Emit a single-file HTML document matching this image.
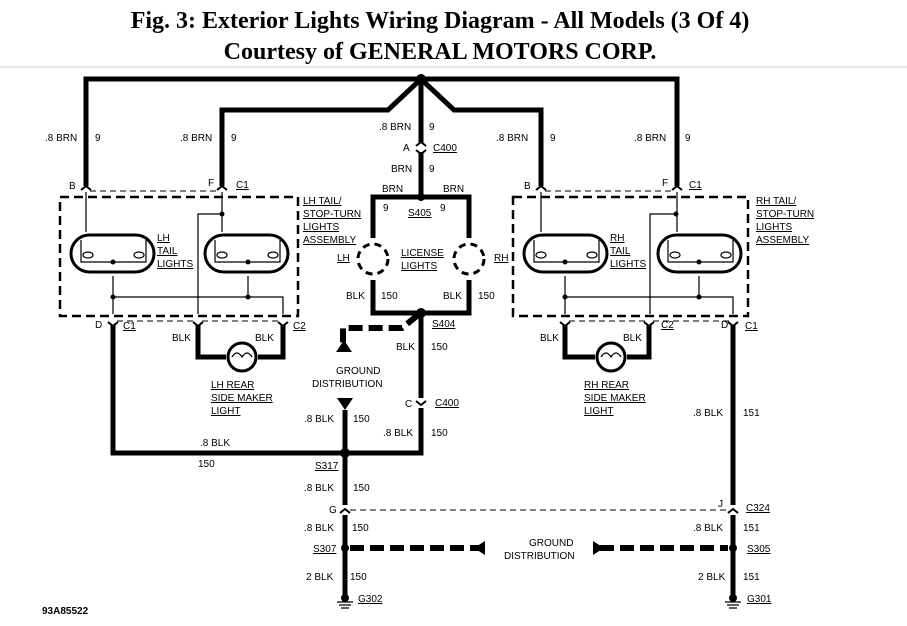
<!DOCTYPE html>
<html><head><meta charset="utf-8"><style>
body{margin:0;background:#fff}
svg{display:block}
text{font-family:"Liberation Sans",sans-serif;font-size:10px;fill:#000}
.t{font-family:"Liberation Serif",serif;font-weight:bold;font-size:24px}
.u{text-decoration:underline}
</style></head><body>
<svg width="907" height="626" viewBox="0 0 907 626" xmlns="http://www.w3.org/2000/svg">
<text class="t" x="440" y="28" text-anchor="middle">Fig. 3: Exterior Lights Wiring Diagram - All Models (3 Of 4)</text>
<text class="t" x="440" y="59" text-anchor="middle">Courtesy of GENERAL MOTORS CORP.</text>
<line x1="0" y1="67" x2="907" y2="67" stroke="#ddd" stroke-width="1.5"/>
<g fill="none" stroke="#000" stroke-width="5">
<path d="M86,186 V79 H677 V186"/>
<path d="M222,186 V110 H388 L421,79 L454,110 H541 V186"/>
<path d="M421,79 V143"/>
<path d="M421,152 V197"/>
<path d="M373,238 V197 H469 V238"/>
<path d="M373,280 V313 H469 V280"/>
<path d="M421,313 V398"/>
<path d="M421,408 V453 H113 V325"/>
<path d="M345,410 V505"/>
<path d="M345,515 V596"/>
<path d="M198,325 V357 H226"/><path d="M283,325 V357 H258"/>
<path d="M565,325 V357 H595"/><path d="M649,325 V357 H627"/>
<path d="M733,325 V505"/><path d="M733,515 V596"/>
</g>
<g fill="none" stroke="#000" stroke-width="2">
<path d="M81,190 l5,-4 l5,4 M217,190 l5,-4 l5,4 M536,190 l5,-4 l5,4 M672,190 l5,-4 l5,4"/>
<path d="M108,322 l5,4 l5,-4 M193,322 l5,4 l5,-4 M278,322 l5,4 l5,-4 M560,322 l5,4 l5,-4 M644,322 l5,4 l5,-4 M728,322 l5,4 l5,-4"/>
<path d="M416,146 l5,-4 l5,4 M416,150 l5,4 l5,-4 M416,401 l5,4 l5,-4 M340,513 l5,-4 l5,4 M728,513 l5,-4 l5,4"/>
</g>
<g stroke="#000" stroke-width="6" fill="none" stroke-dasharray="14,6">
<path d="M418,315 L402,328 H343 V346"/>
<path d="M350,548 H482"/>
<path d="M600,548 H728"/>
</g>
<polygon points="336,352 352,352 344,340" fill="#000"/>
<polygon points="337,398 353,398 345,410" fill="#000"/>
<polygon points="485,541 485,555 474,548" fill="#000"/>
<polygon points="593,541 593,555 604,548" fill="#000"/>
<g fill="#000"><circle cx="421" cy="79" r="5"/><circle cx="421" cy="197" r="4"/><circle cx="421" cy="313" r="5"/><circle cx="345" cy="453" r="5"/><circle cx="345" cy="548" r="4"/><circle cx="733" cy="548" r="4"/></g>
<g fill="none" stroke="#000" stroke-width="2.5" stroke-dasharray="9,5">
<rect x="60" y="197" width="238" height="119"/>
<rect x="513" y="197" width="235" height="119"/>
</g>
<g fill="none" stroke="#000" stroke-width="1" stroke-dasharray="6,4">
<path d="M90,191 H218"/><path d="M545,191 H673"/>
<path d="M117,321 H194"/><path d="M202,321 H279"/>
<path d="M569,321 H645"/><path d="M653,321 H729"/>
<path d="M350,510 H728"/>
</g>
<g fill="none" stroke="#000" stroke-width="3">
<rect x="71" y="235" width="83" height="37" rx="18.5"/><rect x="205" y="235" width="83" height="37" rx="18.5"/>
<rect x="524" y="235" width="83" height="37" rx="18.5"/><rect x="658" y="235" width="83" height="37" rx="18.5"/>
<circle cx="242" cy="357" r="14"/><circle cx="611" cy="357" r="14"/>
</g>
<g fill="none" stroke="#000" stroke-width="3" stroke-dasharray="7,5">
<circle cx="373" cy="259" r="15"/><circle cx="469" cy="259" r="15"/>
</g>
<g fill="none" stroke="#000" stroke-width="1.2">
<path d="M86,192 V232 M222,192 V232 M541,192 V232 M677,192 V232"/>
<path d="M222,214 H198 V314 M676,214 H650 V314"/>
<path d="M113,276 V314 M248,276 V297 M113,297 H283 V314"/>
<path d="M565,276 V314 M699,276 V297 M565,297 H733 V314"/>
<path d="M81,240 V262 H146 V240 M215,240 V262 H280 V240 M534,240 V262 H599 V240 M668,240 V262 H733 V240"/>
<ellipse cx="88" cy="255" rx="5" ry="3"/><ellipse cx="139" cy="255" rx="5" ry="3"/>
<ellipse cx="222" cy="255" rx="5" ry="3"/><ellipse cx="273" cy="255" rx="5" ry="3"/>
<ellipse cx="541" cy="255" rx="5" ry="3"/><ellipse cx="592" cy="255" rx="5" ry="3"/>
<ellipse cx="675" cy="255" rx="5" ry="3"/><ellipse cx="726" cy="255" rx="5" ry="3"/>
<path d="M232,357 q5,-8 10,0 q5,-8 10,0 M601,357 q5,-8 10,0 q5,-8 10,0"/>
</g>
<g fill="#000"><circle cx="222" cy="214" r="2.5"/><circle cx="676" cy="214" r="2.5"/><circle cx="113" cy="262" r="2.5"/><circle cx="248" cy="262" r="2.5"/><circle cx="565" cy="262" r="2.5"/><circle cx="699" cy="262" r="2.5"/><circle cx="113" cy="297" r="2.5"/><circle cx="248" cy="297" r="2.5"/><circle cx="565" cy="297" r="2.5"/><circle cx="699" cy="297" r="2.5"/></g>
<g fill="#000"><circle cx="345" cy="598" r="4"/><circle cx="733" cy="598" r="4"/></g>
<g stroke="#000" stroke-width="1.3"><path d="M337,602 H353 M339,605 H351 M341,608 H349 M725,602 H741 M727,605 H739 M729,608 H737"/></g>
<text x="45" y="141">.8 BRN</text><text x="95" y="141">9</text>
<text x="180" y="141">.8 BRN</text><text x="231" y="141">9</text>
<text x="379" y="130">.8 BRN</text><text x="429" y="130">9</text>
<text x="496" y="141">.8 BRN</text><text x="550" y="141">9</text>
<text x="634" y="141">.8 BRN</text><text x="685" y="141">9</text>
<text x="403" y="151">A</text><text class="u" x="433" y="151">C400</text>
<text x="391" y="172">BRN</text><text x="429" y="172">9</text>
<text x="382" y="192">BRN</text><text x="443" y="192">BRN</text>
<text x="383" y="211">9</text><text x="440" y="211">9</text><text class="u" x="408" y="216">S405</text>
<text x="69" y="189">B</text><text x="208" y="186">F</text><text class="u" x="236" y="188">C1</text>
<text x="524" y="189">B</text><text x="662" y="186">F</text><text class="u" x="689" y="188">C1</text>
<text class="u" x="303" y="204">LH TAIL/</text><text class="u" x="303" y="217">STOP-TURN</text><text class="u" x="303" y="230">LIGHTS</text><text class="u" x="303" y="243">ASSEMBLY</text>
<text class="u" x="756" y="204">RH TAIL/</text><text class="u" x="756" y="217">STOP-TURN</text><text class="u" x="756" y="230">LIGHTS</text><text class="u" x="756" y="243">ASSEMBLY</text>
<text class="u" x="157" y="241">LH</text><text class="u" x="157" y="254">TAIL</text><text class="u" x="157" y="267">LIGHTS</text>
<text class="u" x="610" y="241">RH</text><text class="u" x="610" y="254">TAIL</text><text class="u" x="610" y="267">LIGHTS</text>
<text class="u" x="337" y="261">LH</text><text class="u" x="494" y="261">RH</text>
<text class="u" x="401" y="256">LICENSE</text><text class="u" x="401" y="269">LIGHTS</text>
<text x="346" y="299">BLK</text><text x="381" y="299">150</text><text x="443" y="299">BLK</text><text x="478" y="299">150</text>
<text x="95" y="328">D</text><text class="u" x="123" y="329">C1</text><text class="u" x="293" y="329">C2</text>
<text x="172" y="341">BLK</text><text x="255" y="341">BLK</text>
<text class="u" x="211" y="388">LH REAR</text><text class="u" x="211" y="401">SIDE MAKER</text><text class="u" x="211" y="414">LIGHT</text>
<text x="540" y="341">BLK</text><text x="623" y="341">BLK</text><text class="u" x="661" y="328">C2</text>
<text x="721" y="328">D</text><text class="u" x="745" y="329">C1</text>
<text class="u" x="584" y="388">RH REAR</text><text class="u" x="584" y="401">SIDE MAKER</text><text class="u" x="584" y="414">LIGHT</text>
<text class="u" x="432" y="327">S404</text>
<text x="396" y="350">BLK</text><text x="431" y="350">150</text>
<text x="336" y="374">GROUND</text><text x="312" y="387">DISTRIBUTION</text>
<text x="405" y="407">C</text><text class="u" x="435" y="406">C400</text>
<text x="304" y="422">.8 BLK</text><text x="353" y="422">150</text>
<text x="383" y="436">.8 BLK</text><text x="431" y="436">150</text>
<text x="200" y="446">.8 BLK</text><text x="198" y="467">150</text>
<text class="u" x="315" y="469">S317</text>
<text x="304" y="491">.8 BLK</text><text x="353" y="491">150</text>
<text x="329" y="513">G</text>
<text x="304" y="531">.8 BLK</text><text x="352" y="531">150</text>
<text class="u" x="313" y="552">S307</text>
<text x="306" y="580">2 BLK</text><text x="350" y="580">150</text>
<text class="u" x="358" y="602">G302</text>
<text x="529" y="546">GROUND</text><text x="504" y="559">DISTRIBUTION</text>
<text x="693" y="416">.8 BLK</text><text x="743" y="416">151</text>
<text x="718" y="507">J</text><text class="u" x="746" y="511">C324</text>
<text x="693" y="531">.8 BLK</text><text x="743" y="531">151</text>
<text class="u" x="747" y="552">S305</text>
<text x="698" y="580">2 BLK</text><text x="743" y="580">151</text>
<text class="u" x="747" y="602">G301</text>
<text x="42" y="614" font-family="Liberation Serif" font-weight="bold" font-size="11">93A85522</text>
</svg>
</body></html>
